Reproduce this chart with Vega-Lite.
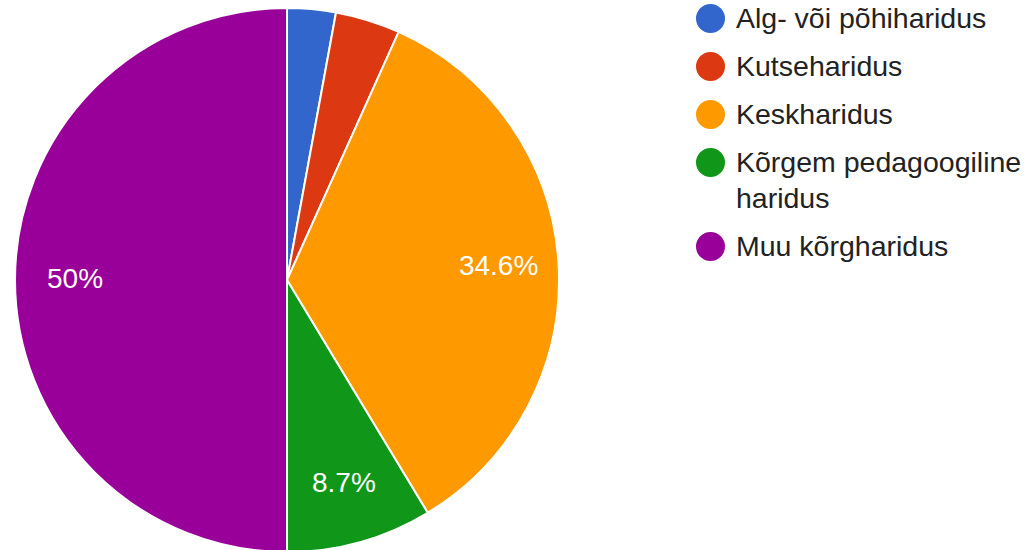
{
  "$schema": "https://vega.github.io/schema/vega-lite/v6.json",
  "width": 574,
  "height": 560,
  "padding": 0,
  "autosize": {"type": "pad"},
  "background": "white",
  "config": {
    "view": {"stroke": null},
    "font": "Liberation Sans",
    "style": {"guide-label": {"lineHeight": 36}}
  },
  "data": {
    "values": [
      {"category": "Alg- või põhiharidus", "count": 3, "order": 1, "label": ""},
      {"category": "Kutseharidus", "count": 4, "order": 2, "label": ""},
      {"category": "Keskharidus", "count": 36, "order": 3, "label": "34.6%"},
      {"category": "Kõrgem pedagoogiline haridus", "count": 9, "order": 4, "label": "8.7%"},
      {"category": "Muu kõrgharidus", "count": 52, "order": 5, "label": "50%"}
    ]
  },
  "encoding": {
    "theta": {"field": "count", "type": "quantitative", "stack": true},
    "order": {"field": "order", "type": "quantitative", "sort": "ascending"},
    "color": {
      "field": "category",
      "type": "nominal",
      "sort": ["Alg- või põhiharidus", "Kutseharidus", "Keskharidus", "Kõrgem pedagoogiline haridus", "Muu kõrgharidus"],
      "scale": {
        "domain": ["Alg- või põhiharidus", "Kutseharidus", "Keskharidus", "Kõrgem pedagoogiline haridus", "Muu kõrgharidus"],
        "range": ["#3366cc", "#dc3912", "#ff9900", "#109618", "#990099"]
      },
      "legend": {
        "title": null,
        "orient": "none",
        "legendX": 696,
        "legendY": 4,
        "symbolType": "circle",
        "symbolSize": 841,
        "symbolStrokeWidth": 0,
        "labelFontSize": 28.5,
        "labelColor": "#222222",
        "labelFont": "Liberation Sans",
        "labelOffset": 11,
        "labelLimit": 400,
        "rowPadding": 19,
        "labelBaseline": "middle",
        "labelExpr": "datum.label == 'Kõrgem pedagoogiline haridus' ? ['Kõrgem pedagoogiline', 'haridus'] : datum.label"
      }
    }
  },
  "layer": [
    {
      "mark": {"type": "arc", "outerRadius": 272, "stroke": "white", "strokeWidth": 2}
    },
    {
      "mark": {"type": "text", "radius": 212, "fontSize": 28, "fill": "white", "font": "Liberation Sans", "align": "center", "baseline": "middle"},
      "encoding": {
        "text": {"field": "label", "type": "nominal"},
        "color": {"value": "white"}
      }
    }
  ]
}
